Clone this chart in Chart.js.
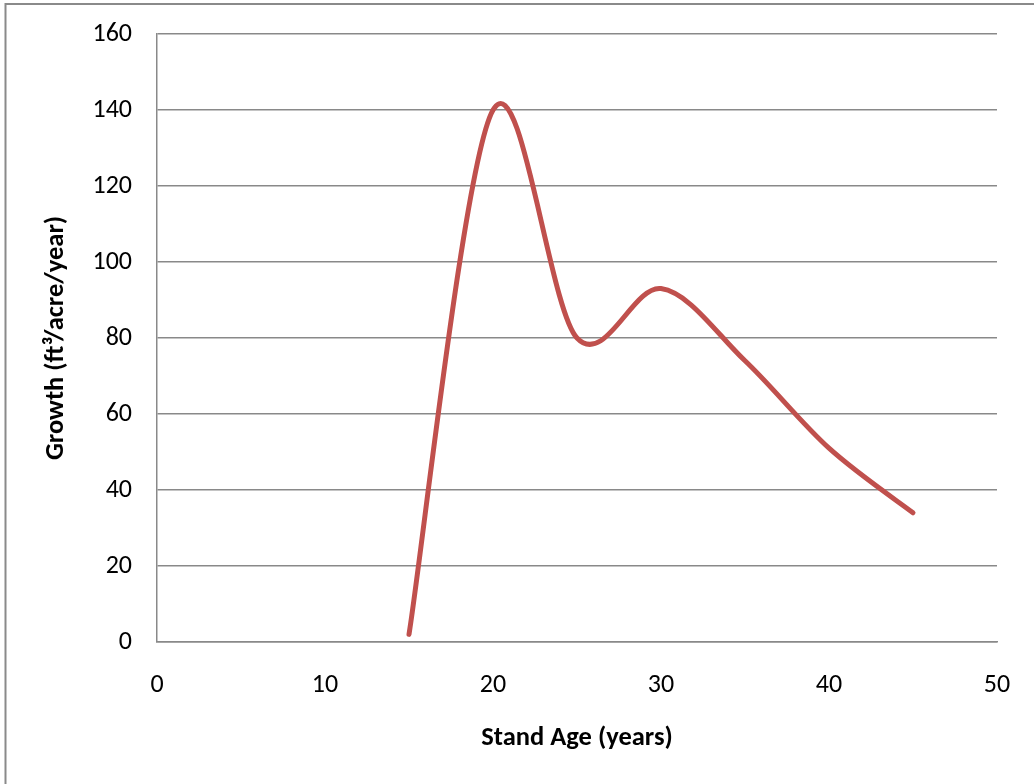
<!DOCTYPE html>
<html>
<head>
<meta charset="utf-8">
<script src="https://cdn.jsdelivr.net/npm/chart.js@4/dist/chart.umd.min.js"></script>
<style>
  html, body { margin: 0; padding: 0; background: #fff; }
  #wrap { width: 1034px; height: 784px; position: relative; }
</style>
</head>
<body>
<div id="wrap"><canvas id="c" width="1034" height="784"></canvas></div>
<script>
// Data
const standAge = [15, 20, 25, 30, 35, 40, 45];
const growth   = [2, 140, 80, 93, 74, 51, 34];
const xTicks = [0, 10, 20, 30, 40, 50];
const yTicks = [0, 20, 40, 60, 80, 100, 120, 140, 160];
const xTitle = 'Stand Age (years)';
const yTitle = 'Growth (ft\u00B3/acre/year)';

const FONT = "Carlito, Lato, 'Open Sans', sans-serif";
const GRID = '#898989';

// Excel-style smoothing (Catmull-Rom) applied to control points
const catmullRom = {
  id: 'catmullRom',
  beforeDatasetDraw(chart, args) {
    const meta = args.meta;
    const line = meta.dataset;
    if (!line) return;
    line.updateControlPoints(chart.chartArea, 'x');
    const pts = meta.data;
    const n = pts.length;
    for (let i = 0; i < n; i++) {
      const p = pts[i];
      const prev = pts[Math.max(0, i - 1)];
      const next = pts[Math.min(n - 1, i + 1)];
      const dx = (next.x - prev.x) / 6;
      const dy = (next.y - prev.y) / 6;
      p.cp1x = p.x - dx; p.cp1y = p.y - dy;
      p.cp2x = p.x + dx; p.cp2y = p.y + dy;
    }
    line._path = undefined;
  }
};

const frame = {
  id: 'frame',
  afterDraw(chart) {
    const ctx = chart.ctx;
    ctx.save();
    ctx.strokeStyle = '#8a8a8a';
    ctx.lineWidth = 2;
    ctx.beginPath();
    ctx.moveTo(5.5, 800);
    ctx.lineTo(5.5, 4);
    ctx.lineTo(1040, 4);
    ctx.stroke();
    ctx.restore();
  }
};

new Chart(document.getElementById('c'), {
  type: 'scatter',
  data: {
    datasets: [{
      data: standAge.map((a, i) => ({ x: a, y: growth[i] })),
      showLine: true,
      borderColor: '#C0504D',
      backgroundColor: '#C0504D',
      borderWidth: 5,
      borderCapStyle: 'round',
      borderJoinStyle: 'round',
      pointRadius: 0,
      pointHoverRadius: 0,
      tension: 0.4,
      capBezierPoints: false,
      fill: false
    }]
  },
  options: {
    responsive: false,
    animation: false,
    devicePixelRatio: 1,
    layout: { padding: { top: 34, right: 37, bottom: 0, left: 0 } },
    plugins: { legend: { display: false }, tooltip: { enabled: false } },
    scales: {
      x: {
        type: 'linear',
        min: 0, max: 50,
        afterBuildTicks: (s) => { s.ticks = xTicks.map(v => ({ value: v })); },
        afterFit: (s) => { s.height = 142; s.paddingLeft = 0; s.paddingRight = 0; },
        grid: { display: false, drawTicks: false },
        border: { display: true, color: GRID, width: 1.5 },
        ticks: { padding: 28, color: '#000', font: { family: FONT, size: 26 } },
        title: {
          display: true, text: xTitle, color: '#000',
          font: { family: FONT, size: 26.5, weight: 'bold' },
          padding: { top: 0, bottom: 30 }
        }
      },
      y: {
        type: 'linear',
        min: 0, max: 160,
        afterBuildTicks: (s) => { s.ticks = yTicks.map(v => ({ value: v })); },
        afterFit: (s) => { s.width = 157; s.paddingTop = 0; s.paddingBottom = 0; },
        grid: { color: GRID, lineWidth: 1.5, drawTicks: false },
        border: { display: true, color: GRID, width: 1.5 },
        ticks: { padding: 25, color: '#000', font: { family: FONT, size: 26 } },
        title: {
          display: true, text: yTitle, color: '#000',
          font: { family: FONT, size: 26.5, weight: 'bold' },
          padding: { top: 40, bottom: 0 }
        }
      }
    }
  },
  plugins: [catmullRom, frame]
});
</script>
</body>
</html>
